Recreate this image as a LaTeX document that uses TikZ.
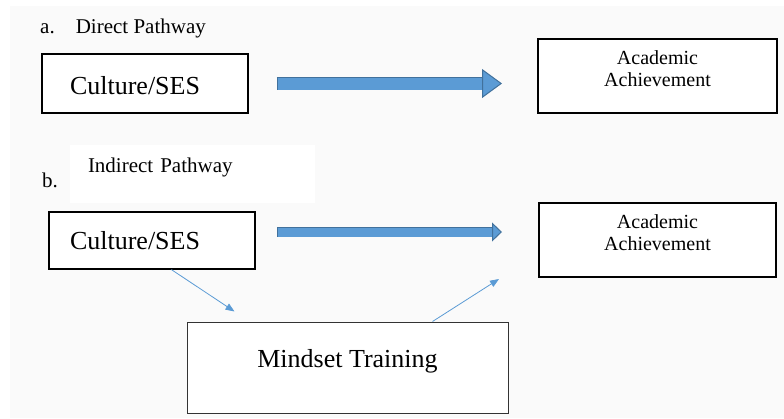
\documentclass[tikz,border=0pt]{standalone}
\usepackage{fontspec}
\setmainfont{Liberation Serif}
\usepackage{tikz}
\usetikzlibrary{arrows.meta,positioning}

\definecolor{pathblue}{HTML}{5B9BD5}
\definecolor{pathedge}{HTML}{41719C}
\definecolor{pagegray}{HTML}{FAFAFA}

\tikzset{
	box/.style={draw=black, fill=white, inner sep=0pt},
	fatedge/.style={draw=pathedge},
	fatarrow/.style={draw=pathblue},
	link/.style={draw=pathblue, line width=0.8pt, -{Triangle[length=9pt,width=7pt]}},
	bigfont/.style={font=\fontsize{26}{30}\selectfont},
	midfont/.style={font=\fontsize{21}{25}\selectfont},
	smallfont/.style={font=\fontsize{20}{22}\selectfont}
}

\begin{document}
\begin{tikzpicture}[x=1pt,y=-1pt]
	\useasboundingbox (0,0) rectangle (784,418);
	\fill[white] (0,0) rectangle (784,418);
	\fill[pagegray] (10,6) rectangle (784,418);
	% a. direct pathway
	\node[anchor=base west, inner sep=0pt, midfont] (labA) at (40,33) {a.\hspace{1em}Direct Pathway};
	\node[box, line width=1.2pt, minimum width=206pt, minimum height=59pt, text width=150pt, inner xsep=28pt, align=left, text height=23pt, bigfont] (culA) at (145,83.5) {Culture/SES};
	\node[box, line width=2pt, minimum width=239pt, minimum height=74pt, align=center, text depth=14pt, smallfont] (achA) at (657.5,76) {Academic\\Achievement};
	\draw[fatedge, line width=13.4pt, shorten <=28.3pt, shorten >=50pt] (culA.east) -- (culA.east -| achA.west);
	\draw[fatarrow, line width=12pt, -{Triangle[length=20pt,width=29pt,line width=1pt,fill=pathblue,color=pathedge]}, shorten <=29pt, shorten >=35pt] (culA.east) -- (culA.east -| achA.west);
	% b. indirect pathway
	\node[anchor=base west, inner sep=0pt, midfont] (labB) at (42,187) {b.};
	\node[fill=white, minimum height=58pt, text width=209pt, inner xsep=18pt, inner ysep=0pt, align=left, text depth=18pt, midfont] (indB) at (192.5,174) {Indirect Pathway};
	\node[box, line width=1.2pt, minimum width=206pt, minimum height=57pt, text width=164pt, inner xsep=21pt, align=left, bigfont] (culB) at (152,240.5) {Culture/SES};
	\draw[line width=1.6pt] ([xshift=4pt]culB.south west) -- ([xshift=101pt]culB.south west);
	\node[box, line width=2pt, minimum width=237pt, minimum height=74pt, align=center, text depth=14pt, smallfont] (achB) at (657.5,240) {Academic\\Achievement};
	\node[box, draw=black!80, line width=1pt, minimum width=321pt, minimum height=91pt, text depth=19pt, bigfont] (mind) at (347.5,367.5) {Mindset Training};
	\draw[fatedge, line width=10.2pt, shorten <=21.4pt, shorten >=44pt] ([yshift=8.5pt]culB.east) -- ([yshift=8.5pt]culB.east -| achB.west);
	\draw[fatarrow, line width=9pt, -{Triangle[length=10pt,width=19pt,line width=1pt,fill=pathblue,color=pathedge]}, shorten <=22pt, shorten >=36pt] ([yshift=8.5pt]culB.east) -- ([yshift=8.5pt]culB.east -| achB.west);
	\draw[link] ([xshift=123pt]culB.south west) -- ([xshift=48pt,yshift=10pt]mind.north west);
	\draw[link] ([xshift=246pt]mind.north west) -- ([xshift=-39pt,yshift=-1pt]achB.south west);
\end{tikzpicture}
\end{document}
